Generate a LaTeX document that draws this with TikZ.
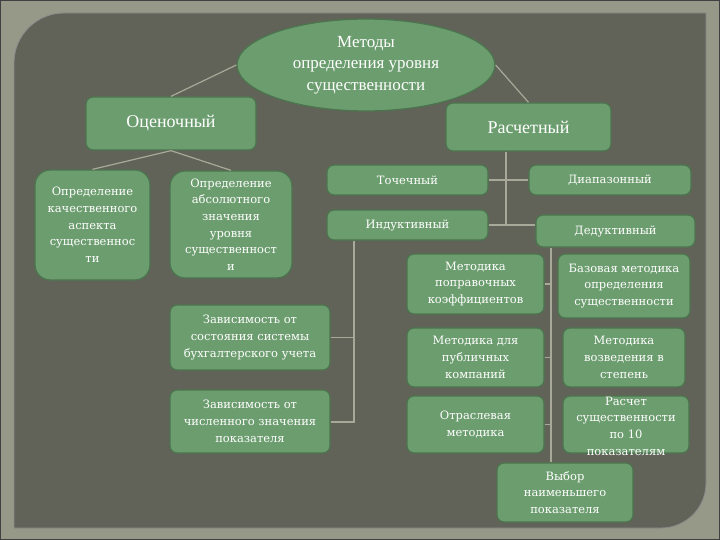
\documentclass[tikz,border=0pt]{standalone}
\usepackage{fontspec}
\setmainfont{Liberation Serif}
\newfontfamily\boxfont{DejaVu Serif}
\usepackage{tikz}
\usetikzlibrary{shapes.geometric}
\definecolor{frame1}{RGB}{150,152,136}
\definecolor{panel1}{RGB}{98,99,88}
\definecolor{green1}{RGB}{108,157,111}
\definecolor{green2}{RGB}{76,116,78}
\definecolor{line1}{RGB}{168,169,152}

\begin{document}
\begin{tikzpicture}[x=1pt,y=-1pt,
  box/.style={draw=green2,line width=1.3pt,fill=green1,rounded corners=7pt,inner sep=0pt,
    align=center,text=white,font=\boxfont\fontsize{11.5}{16.7}\selectfont},
  big/.style={box,font=\fontsize{18}{21.5}\selectfont},
  ln/.style={draw=line1,line width=1.2pt}]
\useasboundingbox (0,0) rectangle (720,540);
%\fill [frame1] (0,0) rectangle (720,540);
\fill [frame1] (0,0) rectangle (720,540);
\draw [black!75,line width=1.2pt] (0,0) rectangle (720,540);
%
\fill [panel1,draw=black!45,line width=0.8pt] (14,528) -- (14,63) .. controls (14,35.4) and (36.4,13) .. (64,13)
  -- (706,13) -- (706,483) .. controls (706,507.9) and (685.9,528) .. (661,528) -- cycle;
%
\node[ellipse,draw=green2,line width=1.3pt,fill=green1,inner sep=0pt,minimum width=258pt,minimum height=92pt,
  align=center,text=white,font=\fontsize{17}{21.5}\selectfont] (m0) at (366,65) {Методы\\определения уровня\\существенности};
%
\node[big,minimum width=170pt,minimum height=53pt] (o1) at (171,123.5) {Оценочный};
\node[big,minimum width=165pt,minimum height=48pt] (r1) at (528.5,127) {Расчетный};
%
\node[box,rounded corners=15pt,minimum width=115pt,minimum height=110pt] (o2) at (92.5,225) {Определение\\качественного\\аспекта\\существеннос\\ти};
\node[box,rounded corners=15pt,minimum width=122pt,minimum height=107pt] (o3) at (231,224.5) {Определение\\абсолютного\\значения\\уровня\\существенност\\и};
%
\node[box,minimum width=161pt,minimum height=30pt] (t1) at (407.5,180) {Точечный};
\node[box,minimum width=162pt,minimum height=30pt] (d1) at (610,180) {Диапазонный};
\node[box,minimum width=161pt,minimum height=30pt] (i1) at (407.5,225) {Индуктивный};
\node[box,minimum width=159pt,minimum height=32pt] (d2) at (615.5,231) {Дедуктивный};
%
\node[box,minimum width=160pt,minimum height=65pt] (i2) at (250,337.5) {Зависимость от\\состояния системы\\бухгалтерского учета};
\node[box,minimum width=160pt,minimum height=63pt] (i3) at (250,421.5) {Зависимость от\\численного значения\\показателя};
%
\node[box,minimum width=137pt,minimum height=60pt] (k1) at (475.5,284) {Методика\\поправочных\\коэффициентов};
\node[box,minimum width=137pt,minimum height=59pt] (k2) at (475.5,357.5) {Методика для\\публичных\\компаний};
\node[box,minimum width=137pt,minimum height=57pt] (k3) at (475.5,424.5) {Отраслевая\\методика};
%
\node[box,minimum width=132pt,minimum height=64pt] (b1) at (624,286) {Базовая методика\\определения\\существенности};
\node[box,minimum width=122pt,minimum height=59pt] (b2) at (624,357.5) {Методика\\возведения в\\степень};
\node[box,minimum width=126pt,minimum height=57pt] (b3) at (626,424.5) {};
\node[align=center,text=white,font=\boxfont\fontsize{11.5}{16.7}\selectfont] (b3t) at (626,426) {Расчет\\существенности\\по 10\\показателям};
%
\node[box,minimum width=136pt,minimum height=59pt] (v1) at (565,492.5) {Выбор\\наименьшего\\показателя};
%
\coordinate (p1) at (506,225);
\coordinate (p2) at (354,422);
\coordinate (p3) at (551,0);
%
\draw[ln] (m0.west) -- (o1.north);
\draw[ln] (m0.east) -- (r1.north);
\draw[ln] (o1.south) -- (o2.north);
\draw[ln] (o1.south) -- (o3.north);
%
\draw[ln] (r1.south -| p1) -- (p1);
\draw[ln] (t1.east) -- (d1.west);
\draw[ln] (i1.east) -- (i1.east -| d2.west);
%
\draw[ln] (i1.south -| p2) -- (p2) -- (p2 -| i3.east);
\draw[ln] (i2.east) -- (i2.east -| p2);
%
\draw[ln] (d2.south -| p3) -- (v1.north -| p3);
\draw[ln] (k1.east) -- (k1.east -| p3);
\draw[ln] (k2.east) -- (k2.east -| p3);
\draw[ln] (k3.east) -- (k3.east -| p3);
\end{tikzpicture}
\end{document}
